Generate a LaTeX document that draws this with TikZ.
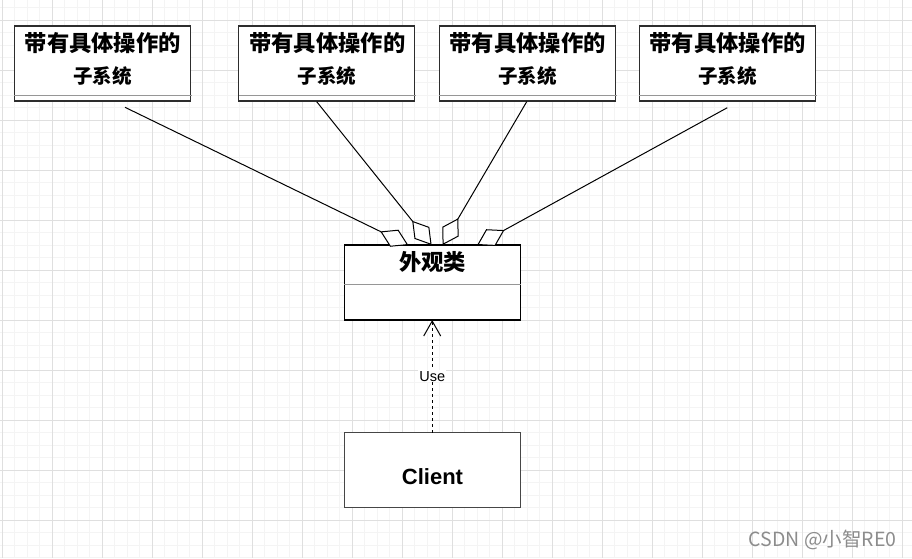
\documentclass[tikz,border=0pt]{standalone}
\usepackage{fontspec}
\setmainfont{Liberation Sans}
\newfontfamily\cjk{Noto Sans CJK SC}
\usetikzlibrary{arrows.meta,calc}
\definecolor{gmaj}{RGB}{223,223,223}
\definecolor{gmin}{RGB}{244,244,244}
\definecolor{sepc}{RGB}{150,150,150}
\definecolor{wmc}{RGB}{140,140,140}
\definecolor{edgec}{RGB}{45,45,45}
\definecolor{clic}{RGB}{70,70,70}
\begin{document}
\begin{tikzpicture}[x=1pt,y=-1pt,
  minorline/.style={gmin, line width=1pt},
  majorline/.style={gmaj, line width=1pt},
  classbox/.style={draw=edgec, line width=1.2pt, fill=white, minimum width=176pt, minimum height=75pt, inner sep=0pt, outer sep=0pt},
  septline/.style={sepc, line width=1pt},
  cntitle/.style={font=\cjk\bfseries\fontsize{22.3pt}{24pt}\selectfont, inner sep=0pt},
  cnsub/.style={font=\cjk\bfseries\fontsize{19.5pt}{22pt}\selectfont, inner sep=0pt},
  agg/.style={draw=black, line width=1pt, -{Diamond[fill=white, length=31pt, width=19pt]}},
  usearrow/.style={draw=black, line width=1pt, dash pattern=on 3pt off 3pt, -{Straight Barb[length=15pt, width=17pt]}},
  uselabel/.style={fill=white, font=\fontsize{14.5pt}{16pt}\selectfont, inner sep=1pt},
]
\useasboundingbox (0,0) rectangle (912,558);
\fill[white] (0,0) rectangle (912,558);
% grid
\foreach \i in {0,...,73} { \draw[minorline] ({2+12.5*\i},0) -- ++(0,558); }
\foreach \j in {0,...,44} { \draw[minorline] (0,{7.5+12.5*\j}) -- ++(912,0); }
\foreach \i in {0,...,18} { \draw[majorline] ({2+50*\i},0) -- ++(0,558); }
\foreach \j in {0,...,10} { \draw[majorline] (0,{20+50*\j}) -- ++(912,0); }

% subsystem boxes
\foreach \n/\cx in {1/102.3, 2/326.8, 3/527.2, 4/727.2} {
  \node[classbox] (b\n) at (\cx,63.5) {};
  \draw[septline] ($(b\n.south west)+(0,-5.3)$) -- ++(177.5,0);
  \node[cntitle] (b\n t) at (\cx+0.5,43) {带有具体操作的};
  \node[cnsub] (b\n s) at (\cx+0.3,76) {子系统};
}

% facade
\node[classbox, draw=black] (fac) at (432.2,282.5) {};
\draw[septline] ($(fac.north west)+(0,39.3)$) -- ++(177,0);
\node[cntitle] (fact) at (432.5,262.5) {外观类};

% client
\node[classbox, draw=clic] (cli) at (432.2,470.2) {};
\node[font=\bfseries\fontsize{22pt}{24pt}\selectfont, inner sep=0pt] (clit) at (432.5,476.7) {Client};

% aggregation connectors
\coordinate (s1) at (125,107.3);
\coordinate (s2) at (316.7,101.7);
\coordinate (s3) at (526.7,101.7);
\coordinate (s4) at (727.3,107.7);
\coordinate (t1) at ($(fac.north west)+(64,0)$);
\coordinate (t2) at ($(fac.north west)+(87.4,0)$);
\coordinate (t3) at ($(fac.north west)+(98.4,0)$);
\coordinate (t4) at ($(fac.north west)+(133,0)$);
\foreach \k in {1,...,4} { \draw[agg] (s\k) -- (t\k); }

% use dependency
\draw[usearrow] (cli.north) -- (fac.south) node[uselabel, midway] (use) {Use};

% watermark
\node[font=\cjk\fontsize{19.5pt}{21pt}\selectfont, text=wmc, anchor=east, inner sep=0pt] (wm) at (896.5,540) {CSDN @小智RE0};
\end{tikzpicture}
\end{document}
